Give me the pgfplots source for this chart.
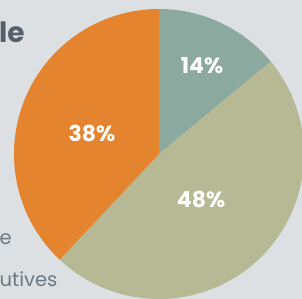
\documentclass[border=0pt]{standalone}
\usepackage{pgfplots}
\pgfplotsset{compat=1.18}
\usepackage{fontspec}
\setmainfont{Poppins}
\definecolor{bgc}{HTML}{DCE0E3}
\definecolor{orangec}{HTML}{E4842F}
\definecolor{tealc}{HTML}{8CA99F}
\definecolor{tanc}{HTML}{B7B894}
\definecolor{darkt}{HTML}{56606B}
\definecolor{grayt}{HTML}{6E7882}
% shares (percent): teal 14, tan 48, orange 38; clockwise from 12 o'clock
\def\pTeal{14}
\def\pTan{48}
\def\pOrange{38}
\pgfmathsetmacro{\aA}{90}
\pgfmathsetmacro{\aB}{\aA-\pTeal*3.6}
\pgfmathsetmacro{\aC}{\aB-\pTan*3.6}
\pgfmathsetmacro{\aD}{\aC-\pOrange*3.6}
\begin{document}
\begin{tikzpicture}
\useasboundingbox (0,0) rectangle (302pt,299pt);
\clip (0,0) rectangle (302pt,299pt);
\fill[bgc] (0,0) rectangle (302pt,299pt);
\begin{axis}[at={(14pt,0pt)}, anchor=south west, scale only axis,
  width=290pt, height=290pt, xmin=-1, xmax=1, ymin=-1, ymax=1,
  hide axis, clip=false]
\addplot[fill=tealc, draw=none, domain=\aB:\aA, samples=60, variable=\t]
  ({cos(\t)},{sin(\t)}) -- (axis cs:0,0) -- cycle;
\addplot[fill=tanc, draw=none, domain=\aC:\aB, samples=120, variable=\t]
  ({cos(\t)},{sin(\t)}) -- (axis cs:0,0) -- cycle;
\addplot[fill=orangec, draw=none, domain=\aD:\aC, samples=100, variable=\t]
  ({cos(\t)},{sin(\t)}) -- (axis cs:0,0) -- cycle;
\node[text=white, font=\bfseries\fontsize{22}{22}\selectfont, inner sep=0pt, anchor=base] at (axis cs:0.297,0.552) {\pTeal\%};
\node[text=white, font=\bfseries\fontsize{22}{22}\selectfont, inner sep=0pt, anchor=base] at (axis cs:-0.462,0.083) {\pOrange\%};
\node[text=white, font=\bfseries\fontsize{22}{22}\selectfont, inner sep=0pt, anchor=base] at (axis cs:0.290,-0.372) {\pTan\%};
\end{axis}
\node[anchor=base west, inner sep=0pt, text=darkt, font=\bfseries\fontsize{28}{28}\selectfont] at (-1pt,256pt) {le};
\node[anchor=base west, inner sep=0pt, text=grayt, font=\fontsize{19.5}{19.5}\selectfont] at (-0.5pt,54pt) {e};
\node[anchor=base west, inner sep=0pt, text=grayt, font=\fontsize{19.5}{19.5}\selectfont] at (-0.5pt,12pt) {utives};
\end{tikzpicture}
\end{document}
